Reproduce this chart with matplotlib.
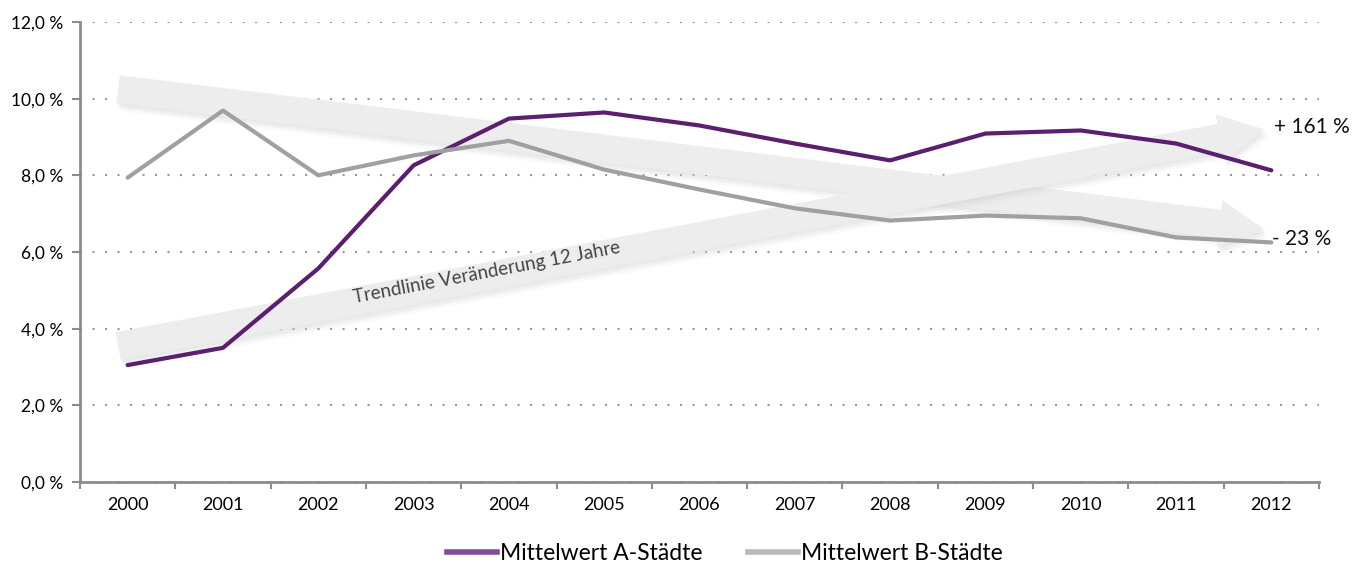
import numpy as np
import matplotlib.pyplot as plt
import matplotlib.patheffects as pe
from matplotlib.ticker import FuncFormatter, FixedLocator
from matplotlib.lines import Line2D

plt.rcParams['font.family'] = ['Lato', 'DejaVu Sans']

years = ['2000', '2001', '2002', '2003', '2004', '2005', '2006',
         '2007', '2008', '2009', '2010', '2011', '2012']
a_staedte = [3.05, 3.5, 5.57, 8.26, 9.48, 9.64, 9.3, 8.83, 8.39, 9.09, 9.17, 8.83, 8.13]
b_staedte = [7.94, 9.69, 8.0, 8.52, 8.9, 8.15, 7.63, 7.14, 6.82, 6.95, 6.88, 6.38, 6.25]

# trend arrows: (start value, end value)
trend_a = [3.55, 9.2]
trend_b = [10.25, 6.6]
trend_labels = ['+ 161 %', '- 23 %']

purple = '#5c1e6e'
grey = '#a0a0a0'
axis_grey = '#8c8c8c'

fig = plt.figure(figsize=(13.62, 5.76), dpi=100)
ax = fig.add_axes([80/1362, 94/576, 1239/1362, 460/576])

x = np.arange(len(years))

# trend arrows with a soft shadow
shadow = [pe.SimplePatchShadow(offset=(1, -2), shadow_rgbFace='#d0d0d0', alpha=0.25),
          pe.SimplePatchShadow(offset=(2, -4), shadow_rgbFace='#d0d0d0', alpha=0.2),
          pe.SimplePatchShadow(offset=(3, -6), shadow_rgbFace='#d8d8d8', alpha=0.15),
          pe.Normal()]
for tr in (trend_b, trend_a):
    ax.annotate('', xy=(x[-1] - 0.08, tr[1]), xytext=(-0.1, tr[0]),
                arrowprops=dict(arrowstyle='simple,head_length=1.6,head_width=1.7,tail_width=1.0',
                                fc='#ecedec', ec='none', shrinkA=0, shrinkB=0,
                                mutation_scale=20, path_effects=shadow),
                zorder=1)

ax.text(3.77, 5.47, 'Trendlinie Veränderung 12 Jahre', rotation=10.7,
        ha='center', va='center', fontsize=13.5, color='#444444', zorder=2)

ax.plot(x, a_staedte, color=purple, lw=3, solid_capstyle='round', zorder=3)
ax.plot(x, b_staedte, color=grey, lw=3, solid_capstyle='round', zorder=3)

ax.text(x[-1] + 0.03, 9.25, trend_labels[0], fontsize=15, ha='left', va='center', color='#111111')
ax.text(x[-1] + 0.01, 6.34, trend_labels[1], fontsize=15, ha='left', va='center', color='#111111')

ax.set_xlim(-0.5, len(years) - 0.5)
ax.set_ylim(0, 12)
ax.set_yticks(np.arange(0, 12.1, 2))
ax.yaxis.set_major_formatter(FuncFormatter(lambda v, _: '{:.1f} %'.format(v).replace('.', ',')))
ax.set_xticks(x)
ax.set_xticklabels(years)
ax.xaxis.set_minor_locator(FixedLocator(np.arange(-0.5, len(years), 1)))
ax.tick_params(axis='x', which='major', length=0, pad=11, labelsize=13)
ax.tick_params(axis='x', which='minor', length=5, width=1.5, color=axis_grey)
ax.tick_params(axis='y', length=6, width=1.5, color=axis_grey, labelsize=12.5, pad=6)

for s in ['top', 'right']:
    ax.spines[s].set_visible(False)
for s in ['left', 'bottom']:
    ax.spines[s].set_color(axis_grey)
    ax.spines[s].set_linewidth(2)

ax.grid(axis='y', linestyle=(0, (1, 5)), color='#999999', lw=1.5)
ax.set_axisbelow(True)

handles = [Line2D([], [], color='#7e4e97', lw=4), Line2D([], [], color='#b8b8b8', lw=4)]
fig.legend(handles, ['Mittelwert A-Städte', 'Mittelwert B-Städte'], loc='lower center',
           bbox_to_anchor=(0.532, -0.015), ncol=2, frameon=False, fontsize=16.5,
           handlelength=2.2, handletextpad=0.1, columnspacing=2.0)

fig.savefig('out.png', dpi=100)
